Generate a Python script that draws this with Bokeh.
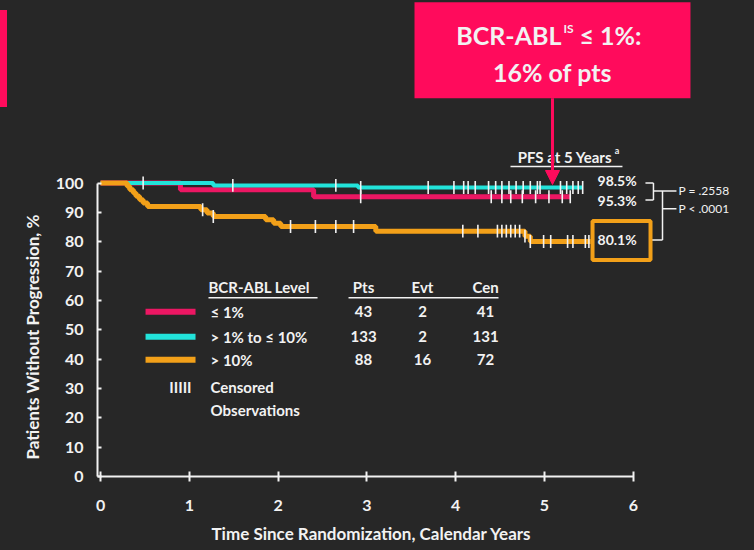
from bokeh.plotting import figure
from bokeh.models import (Label, BoxAnnotation, Arrow, NormalHead, FixedTicker,
                          Range1d, Title)
from bokeh.embed import file_html
from bokeh.resources import INLINE

# ---- Kaplan-Meier data: event times (years) and PFS (%) after each event ----
le1_times = [0.90, 2.40]
le1_surv = [97.7, 95.3]
le1_end = 5.29
le1_cens = [0.48, 2.93, 4.40, 4.52, 4.62, 4.75, 4.90, 5.05, 5.20, 5.29]

mid_times = [1.27, 2.90]
mid_surv = [99.2, 98.5]
mid_end = 5.43
mid_cens = [1.49, 2.65, 2.93, 3.69, 3.98, 4.09, 4.14, 4.22, 4.37, 4.45, 4.52,
            4.60, 4.68, 4.76, 4.84, 4.92, 4.95, 5.18, 5.25, 5.32, 5.38, 5.43]

hi_times = [0.30, 0.33, 0.37, 0.40, 0.44, 0.48, 0.53, 1.13, 1.20, 1.27,
            1.86, 1.95, 2.03, 3.10, 4.78, 4.84]
hi_surv = [98.9, 97.7, 96.6, 95.5, 94.3, 93.2, 92.0, 90.9, 89.8, 88.6,
           87.5, 86.3, 85.2, 83.6, 81.9, 80.1]
hi_end = 5.52
hi_cens = [1.15, 1.27, 2.14, 2.42, 2.65, 2.85, 4.08, 4.25, 4.47, 4.52, 4.57,
           4.62, 4.67, 4.72, 4.78, 4.84, 4.99, 5.07, 5.26, 5.32, 5.46, 5.50]

groups = ["≤ 1%", "> 1% to ≤ 10%", "> 10%"]
pts = [43, 133, 88]
evt = [2, 2, 16]
cen = [41, 131, 72]
pfs5 = ["95.3%", "98.5%", "80.1%"]
p_values = ["P = .2558", "P < .0001"]

x_ticks = [0, 1, 2, 3, 4, 5, 6]
y_ticks = [0, 10, 20, 30, 40, 50, 60, 70, 80, 90, 100]

MAGENTA = "#ec1763"
CYAN = "#22e3da"
ORANGE = "#f2a019"
PINK = "#ff0b5c"
WHITE = "#f2f2f2"
BG = "#272727"
FONT = "Lato"

p = figure(width=754, height=550, output_backend="svg", toolbar_location=None,
           x_range=Range1d(-0.034, 7.365), y_range=Range1d(0, 162.2),
           min_border_left=97, min_border_right=0, min_border_top=0,
           min_border_bottom=73)
# dark slide background with a pink accent strip at the top-left edge
p.styles = {"background": f"linear-gradient({PINK}, {PINK}) 0px 10px / 7px 97px no-repeat, {BG}"}
p.background_fill_color = None
p.border_fill_color = None
p.outline_line_color = None
p.grid.visible = False

# axes
for ax in (p.xaxis[0], p.yaxis[0]):
    ax.axis_line_color = WHITE
    ax.axis_line_width = 2
    ax.major_tick_line_color = WHITE
    ax.major_tick_line_width = 2
    ax.minor_tick_line_color = None
    ax.major_label_text_color = WHITE
    ax.major_label_text_font = FONT
    ax.major_label_text_font_style = "bold"
    ax.major_label_text_font_size = "16px"

p.xaxis.ticker = FixedTicker(ticks=x_ticks)
p.xaxis.bounds = (-0.034, 6)
p.xaxis.major_tick_in = 5
p.xaxis.major_tick_out = 5
p.xaxis.major_label_standoff = 18

p.yaxis.ticker = FixedTicker(ticks=y_ticks)
p.yaxis.bounds = (0, 100)
p.yaxis.major_tick_in = 4
p.yaxis.major_tick_out = 0
p.yaxis.major_label_standoff = 14

# axis titles
p.add_layout(Title(text="Patients Without Progression, %", align="left", offset=17,
                   text_font=FONT, text_font_size="17px", text_font_style="bold",
                   text_color=WHITE, standoff=20), "left")
p.add_layout(Title(text="Time Since Randomization, Calendar Years", align="left",
                   offset=114, text_font=FONT, text_font_size="17px",
                   text_font_style="bold", text_color=WHITE, standoff=14), "below")


def step_xy(times, surv, end):
    return [0] + times + [end], [100] + surv + [surv[-1]]


def surv_at(t, times, surv):
    v = 100
    for ti, si in zip(times, surv):
        if t >= ti:
            v = si
    return v


curves = [
    (le1_times, le1_surv, le1_end, le1_cens, MAGENTA, 5),
    (mid_times, mid_surv, mid_end, mid_cens, CYAN, 4),
    (hi_times, hi_surv, hi_end, hi_cens, ORANGE, 5),
]
for times, surv, end, cens, color, lw in curves:
    xs, ys = step_xy(times, surv, end)
    p.step(xs, ys, mode="after", line_color=color, line_width=lw)

# censoring ticks
for times, surv, end, cens, color, lw in curves:
    vals = [surv_at(c, times, surv) for c in cens]
    p.segment(x0=cens, y0=[v - 2.2 for v in vals], x1=cens, y1=[v + 2.2 for v in vals],
              line_color=WHITE, line_width=1.6)


def label(x, y, text, size="12px", align="left", color=WHITE, style="bold",
          baseline="middle"):
    p.add_layout(Label(x=x, y=y, text=text, text_font=FONT, text_font_size=size,
                       text_font_style=style, text_color=color, text_align=align,
                       text_baseline=baseline))


# legend table
label(1.216, 64.6, "BCR-ABL Level", size="15px")
label(2.962, 64.6, "Pts", size="15px", align="center")
label(3.626, 64.6, "Evt", size="15px", align="center")
label(4.336, 64.6, "Cen", size="15px", align="center")
p.segment(x0=[1.216, 2.793], y0=[60.9, 60.9], x1=[2.444, 4.482], y1=[60.9, 60.9],
          line_color=WHITE, line_width=1.5)
row_y = [56.1, 47.6, 39.8]
colors = [MAGENTA, CYAN, ORANGE]
for i in range(3):
    p.segment(x0=0.507, y0=row_y[i], x1=1.07, y1=row_y[i], line_color=colors[i],
              line_width=6)
    label(1.239, row_y[i], groups[i], size="15px")
    label(2.962, row_y[i], str(pts[i]), size="15px", align="center")
    label(3.626, row_y[i], str(evt[i]), size="15px", align="center")
    label(4.336, row_y[i], str(cen[i]), size="15px", align="center")
label(0.90, 30.6, "IIIII", size="15px", align="center")
label(1.239, 30.6, "Censored", size="15px")
label(1.239, 22.8, "Observations", size="15px")

# 5-year PFS annotations
label(5.597, 100.7, pfs5[1], size="14px")
label(5.597, 93.9, pfs5[0], size="14px")
p.add_layout(BoxAnnotation(left=5.541, right=6.194, bottom=73.8, top=87.1,
                           fill_alpha=0, line_color=ORANGE, line_alpha=1, line_width=4))
label(5.597, 80.6, pfs5[2], size="14px")

p.segment(x0=[6.137, 6.137, 6.227, 6.227, 6.329, 6.194, 6.329],
          y0=[100.0, 94.2, 100.0, 97.3, 97.3, 80.6, 91.2],
          x1=[6.227, 6.227, 6.227, 6.486, 6.329, 6.329, 6.486],
          y1=[100.0, 94.2, 94.2, 97.3, 80.6, 80.6, 91.2],
          line_color=WHITE, line_width=1.5)
label(6.509, 97.3, p_values[0], size="12px", style="normal")
label(6.509, 91.2, p_values[1], size="12px", style="normal")

label(5.23, 108.8, "PFS at 5 Years", size="15px", align="center")
label(5.79, 111.2, "a", size="9px")
p.segment(x0=4.617, y0=105.6, x1=5.878, y1=105.6, line_color=WHITE, line_width=1.5)

# callout box with arrow
p.add_layout(BoxAnnotation(left=3.536, right=6.644, bottom=128.9, top=161.6,
                           fill_color=PINK, fill_alpha=1, line_color=None))
p.add_layout(Arrow(x_start=5.09, y_start=128.9, x_end=5.09, y_end=99.5,
                   line_color=PINK, line_width=3,
                   end=NormalHead(size=14, fill_color=PINK, line_color=PINK)))
label(5.191, 150.3, "BCR-ABL", size="25px", align="right")
label(5.214, 152.7, "IS", size="12px")
label(5.394, 150.3, "≤ 1%:", size="25px")
label(5.09, 137.8, "16% of pts", size="25px", align="center")

open("out.html", "w").write(file_html(p, INLINE))
